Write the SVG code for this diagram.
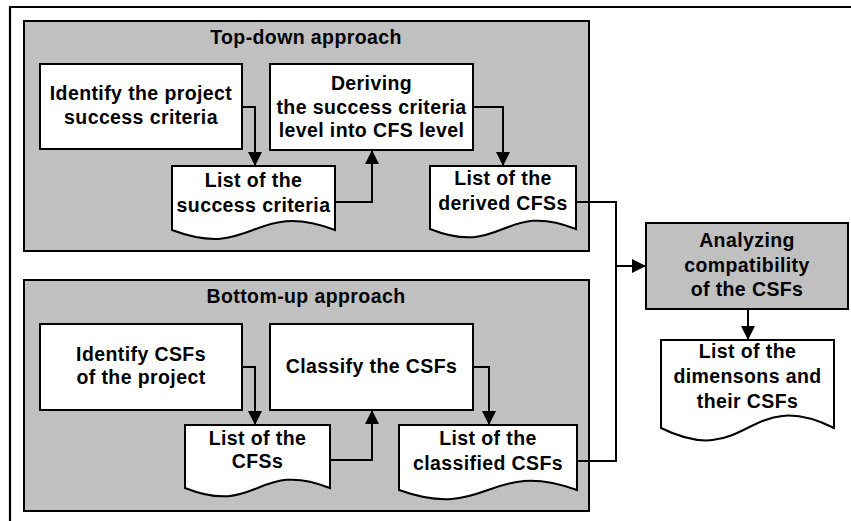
<svg xmlns="http://www.w3.org/2000/svg" width="851" height="521" viewBox="0 0 851 521">
<style>
.frame{fill:none;stroke:#000;stroke-width:2.2}
.group{fill:#c0c0c0;stroke:#000;stroke-width:2}
.box{fill:#fff;stroke:#000;stroke-width:2}
.gbox{fill:#c0c0c0;stroke:#000;stroke-width:2}
.doc{fill:#fff;stroke:#000;stroke-width:2}
.conn{fill:none;stroke:#000;stroke-width:2}
text{font-family:"Liberation Sans",Arial,sans-serif;font-weight:bold;font-size:19.5px;letter-spacing:0.4px;text-anchor:middle;fill:#000}
</style>
<defs>
<marker id="arr" markerUnits="userSpaceOnUse" markerWidth="16" markerHeight="16" refX="14" refY="7" orient="auto">
<path d="M0,0 L14,7 L0,14 Z" fill="#000"/>
</marker>
</defs>
<rect width="851" height="521" fill="#fff"/>
<path class="frame" d="M10,521 V7 H851"/>

<g id="topdown">
<rect class="group" x="24" y="21" width="565" height="230"/>
<text x="306" y="44">Top-down approach</text>
</g>
<g id="bottomup">
<rect class="group" x="24" y="280" width="565" height="231"/>
<text x="306" y="303">Bottom-up approach</text>
</g>

<g id="identify-success">
<rect class="box" x="40" y="64" width="202" height="85"/>
<text x="141" y="100">Identify the project</text>
<text x="141" y="124">success criteria</text>
</g>
<g id="deriving">
<rect class="box" x="270" y="64" width="203" height="86"/>
<text x="371.5" y="90">Deriving</text>
<text x="371.5" y="114">the success criteria</text>
<text x="371.5" y="137">level into CFS level</text>
</g>
<g id="list-success">
<path class="doc" d="M172,166 H335 V230 C252,199 254,261 172,230 Z"/>
<text x="253.5" y="187">List of the</text>
<text x="253.5" y="212">success criteria</text>
</g>
<g id="list-derived">
<path class="doc" d="M430,166 H576 V229 C503,200 503,258 430,229 Z"/>
<text x="503" y="185">List of the</text>
<text x="503" y="210">derived CFSs</text>
</g>

<g id="identify-csfs">
<rect class="box" x="40" y="324" width="202" height="86"/>
<text x="141" y="361">Identify CSFs</text>
<text x="141" y="384">of the project</text>
</g>
<g id="classify">
<rect class="box" x="270" y="324" width="203" height="86"/>
<text x="371.5" y="373">Classify the CSFs</text>
</g>
<g id="list-cfss">
<path class="doc" d="M185,425 H330 V488 C257,459 258,517 185,488 Z"/>
<text x="257.5" y="445">List of the</text>
<text x="257.5" y="468">CFSs</text>
</g>
<g id="list-classified">
<path class="doc" d="M399,425 H577 V490 C488,458 488,522 399,490 Z"/>
<text x="488" y="445">List of the</text>
<text x="488" y="470">classified CSFs</text>
</g>

<g id="analyzing">
<rect class="gbox" x="646" y="223" width="202" height="86"/>
<text x="747" y="247">Analyzing</text>
<text x="747" y="272">compatibility</text>
<text x="747" y="296">of the CSFs</text>
</g>
<g id="list-dimensions">
<path class="doc" d="M661,340 H834 V428 C747,385 748,471 661,428 Z"/>
<text x="747.5" y="358">List of the</text>
<text x="747.5" y="383">dimensons and</text>
<text x="747.5" y="408">their CSFs</text>
</g>

<g id="connectors">
<path class="conn" d="M242,107 H255 V166" marker-end="url(#arr)"/>
<path class="conn" d="M335,202 H372 V150" marker-end="url(#arr)"/>
<path class="conn" d="M473,107 H503 V166" marker-end="url(#arr)"/>
<path class="conn" d="M576,202 H616 V266"/>
<path class="conn" d="M577,461 H616 V266 H646" marker-end="url(#arr)"/>
<path class="conn" d="M748,309 V340" marker-end="url(#arr)"/>
<path class="conn" d="M242,367 H255 V425" marker-end="url(#arr)"/>
<path class="conn" d="M330,460 H372 V410" marker-end="url(#arr)"/>
<path class="conn" d="M473,367 H489 V425" marker-end="url(#arr)"/>
</g>
</svg>
